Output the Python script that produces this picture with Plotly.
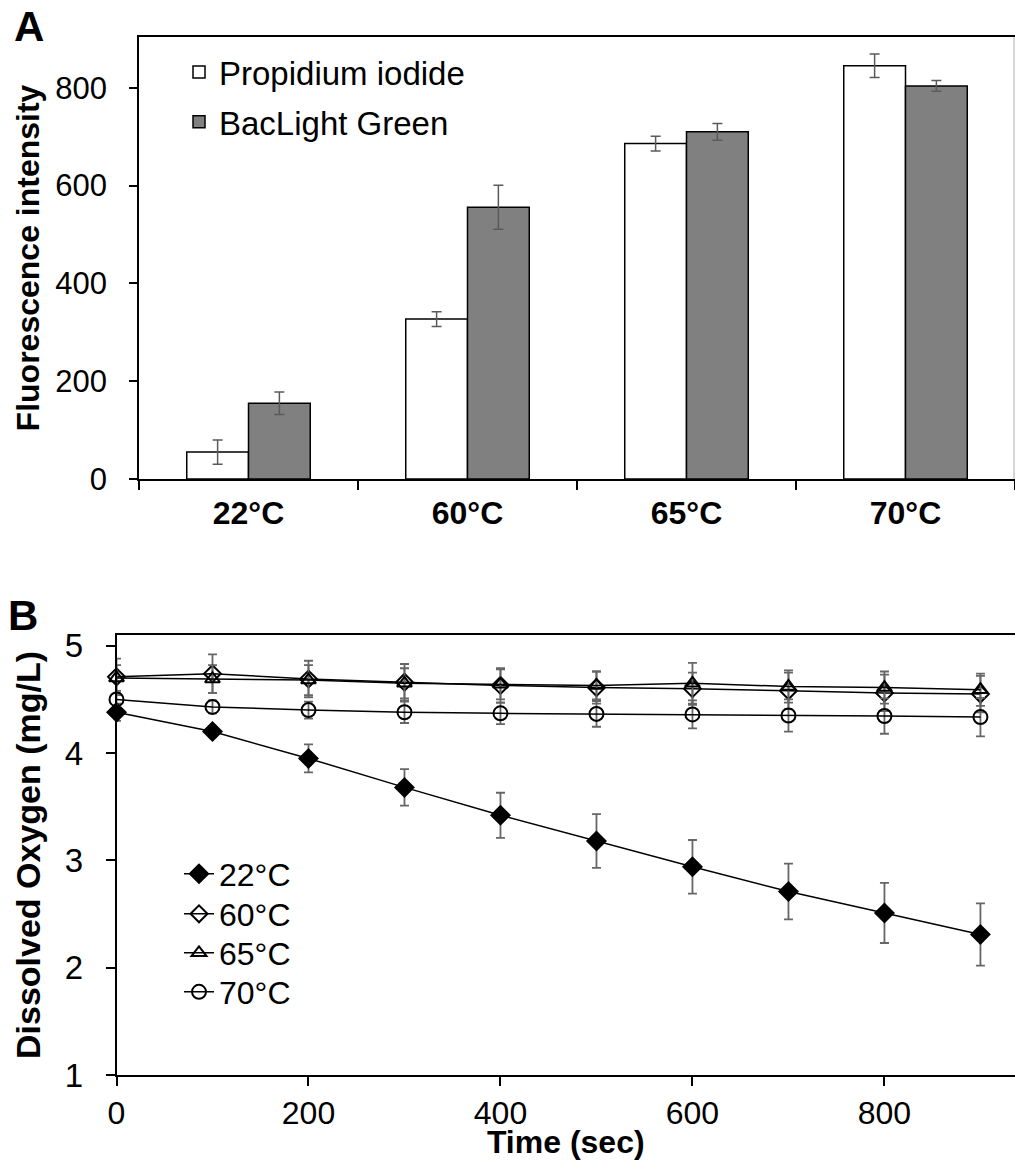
import plotly.graph_objects as go

# ---------------- Panel A data ----------------
categories = ["22°C", "60°C", "65°C", "70°C"]
pi_values = [55, 327, 686, 845]
pi_err = [25, 15, 15, 24]
bg_values = [155, 556, 710, 804]
bg_err = [23, 45, 17, 11]
a_yticks = [0, 200, 400, 600, 800]

# ---------------- Panel B data ----------------
time_s = [0, 100, 200, 300, 400, 500, 600, 700, 800, 900]
do_22 = [4.38, 4.20, 3.95, 3.68, 3.42, 3.18, 2.94, 2.71, 2.51, 2.31]
err_22 = [0.08, 0.05, 0.13, 0.17, 0.21, 0.25, 0.25, 0.26, 0.28, 0.29]
do_60 = [4.71, 4.74, 4.69, 4.66, 4.63, 4.61, 4.60, 4.58, 4.56, 4.55]
err_60 = [0.17, 0.18, 0.17, 0.17, 0.16, 0.15, 0.15, 0.17, 0.17, 0.17]
do_65 = [4.70, 4.69, 4.68, 4.65, 4.64, 4.63, 4.65, 4.62, 4.61, 4.59]
err_65 = [0.12, 0.13, 0.14, 0.14, 0.14, 0.13, 0.19, 0.15, 0.15, 0.15]
do_70 = [4.50, 4.43, 4.40, 4.38, 4.37, 4.365, 4.36, 4.35, 4.345, 4.335]
err_70 = [0.06, 0.06, 0.08, 0.10, 0.10, 0.12, 0.13, 0.15, 0.165, 0.18]
b_xticks = [0, 200, 400, 600, 800]
b_yticks = [1, 2, 3, 4, 5]

FONT = "Arial, Liberation Sans, sans-serif"
W, H = 1015, 1160

fig = go.Figure()

# Panel A bars
fig.add_trace(go.Bar(
    x=categories, y=pi_values, name="Propidium iodide",
    marker=dict(color="white", line=dict(color="black", width=1.5)),
    error_y=dict(type="data", array=pi_err, color="#5a5a5a", thickness=1.5, width=5),
    xaxis="x", yaxis="y", legend="legend", legendgroup="a1",
))
fig.add_trace(go.Bar(
    x=categories, y=bg_values, name="BacLight Green",
    marker=dict(color="#808080", line=dict(color="black", width=1.5)),
    error_y=dict(type="data", array=bg_err, color="#5a5a5a", thickness=1.5, width=5),
    xaxis="x", yaxis="y", legend="legend", legendgroup="a2",
))

# Panel B lines (each legend entry placed on its own row)
series = [
    ("22°C", do_22, err_22, "diamond", 14, "legend2"),
    ("60°C", do_60, err_60, "diamond-open", 13, "legend3"),
    ("65°C", do_65, err_65, "triangle-up-open", 13, "legend4"),
    ("70°C", do_70, err_70, "circle-open", 14, "legend5"),
]
for nm, ys, es, sym, sz, lg in series:
    fig.add_trace(go.Scatter(
        x=time_s, y=ys, name=nm, mode="lines+markers",
        line=dict(color="black", width=1.5),
        marker=dict(symbol=sym, size=sz, color="black", line=dict(color="black", width=2)),
        error_y=dict(type="data", array=es, color="#666666", thickness=1.8, width=4.5),
        xaxis="x2", yaxis="y2", legend=lg,
        cliponaxis=False,
    ))

leg_rows = {"legend2": 874, "legend3": 914, "legend4": 953, "legend5": 992}
legend_b = {
    k: dict(x=179 / W, y=1 - v / H, xanchor="left", yanchor="middle",
            font=dict(family=FONT, size=32), bgcolor="rgba(0,0,0,0)")
    for k, v in leg_rows.items()
}

fig.update_layout(
    width=W, height=H,
    margin=dict(l=0, r=0, t=0, b=0, autoexpand=False),
    paper_bgcolor="white", plot_bgcolor="white",
    font=dict(family=FONT, color="black", size=30),
    barmode="group", bargap=0.436, bargroupgap=0,
    showlegend=True,
    xaxis=dict(
        domain=[139 / W, 1], anchor="y", type="category", automargin=False,
        showline=True, linecolor="black", linewidth=1.5, mirror=True,
        ticks="outside", tickson="boundaries", ticklen=9, tickwidth=1.5, tickcolor="black",
        tickfont=dict(family=FONT, size=32, weight="bold"),
        ticklabelstandoff=5,
        showgrid=False, zeroline=False,
    ),
    yaxis=dict(
        domain=[1 - 479 / H, 1 - 37 / H], anchor="x", automargin=False,
        range=[0, 904], tickvals=a_yticks,
        showline=True, linecolor="black", linewidth=1.5,
        ticks="outside", ticklen=8, tickwidth=1.5, tickcolor="black",
        tickfont=dict(family=FONT, size=31),
        ticklabelstandoff=16,
        showgrid=False, zeroline=False,
        title=dict(text="<b>Fluorescence intensity</b>", font=dict(family=FONT, size=32), standoff=6),
    ),
    xaxis2=dict(
        domain=[116.5 / W, 1], anchor="y2", automargin=False,
        range=[0, 936], tickvals=b_xticks,
        showline=True, linecolor="black", linewidth=1.5, mirror=True,
        ticks="outside", ticklen=9, tickwidth=1.5, tickcolor="black",
        tickfont=dict(family=FONT, size=32),
        ticklabelstandoff=0,
        showgrid=False, zeroline=False,
        title=dict(text="<b>Time (sec)</b>", font=dict(family=FONT, size=32), standoff=4),
    ),
    yaxis2=dict(
        domain=[1 - 1075 / H, 1 - 635 / H], anchor="x2", automargin=False,
        range=[1, 5.1], tickvals=b_yticks,
        showline=True, linecolor="black", linewidth=1.5,
        ticks="outside", ticklen=9, tickwidth=1.5, tickcolor="black",
        tickfont=dict(family=FONT, size=33),
        ticklabelstandoff=16,
        showgrid=False, zeroline=False,
        title=dict(text="<b>Dissolved Oxygen (mg/L)</b>", font=dict(family=FONT, size=34), standoff=14),
    ),
    legend=dict(
        x=179 / W, y=1 - 44 / H, xanchor="left", yanchor="top",
        font=dict(family=FONT, size=33), bgcolor="rgba(0,0,0,0)",
        tracegroupgap=4,
    ),
    **legend_b,
    shapes=[
        dict(type="line", xref="paper", yref="paper", x0=1014 / W, x1=1014 / W,
             y0=1 - 479 / H, y1=1 - 37 / H, line=dict(color="#c8c8c8", width=1.5)),
    ],
    annotations=[
        dict(text="<b>A</b>", x=29 / W, y=1 - 27 / H, xref="paper", yref="paper",
             showarrow=False, font=dict(family=FONT, size=42), xanchor="center", yanchor="middle"),
        dict(text="<b>B</b>", x=23 / W, y=1 - 615 / H, xref="paper", yref="paper",
             showarrow=False, font=dict(family=FONT, size=42), xanchor="center", yanchor="middle"),
    ],
)

# remove the default 8px page margin so the figure sits at the window's top-left corner
fig.write_html("out.html", config={"displayModeBar": False},
               post_script="document.body.style.margin='0';")
